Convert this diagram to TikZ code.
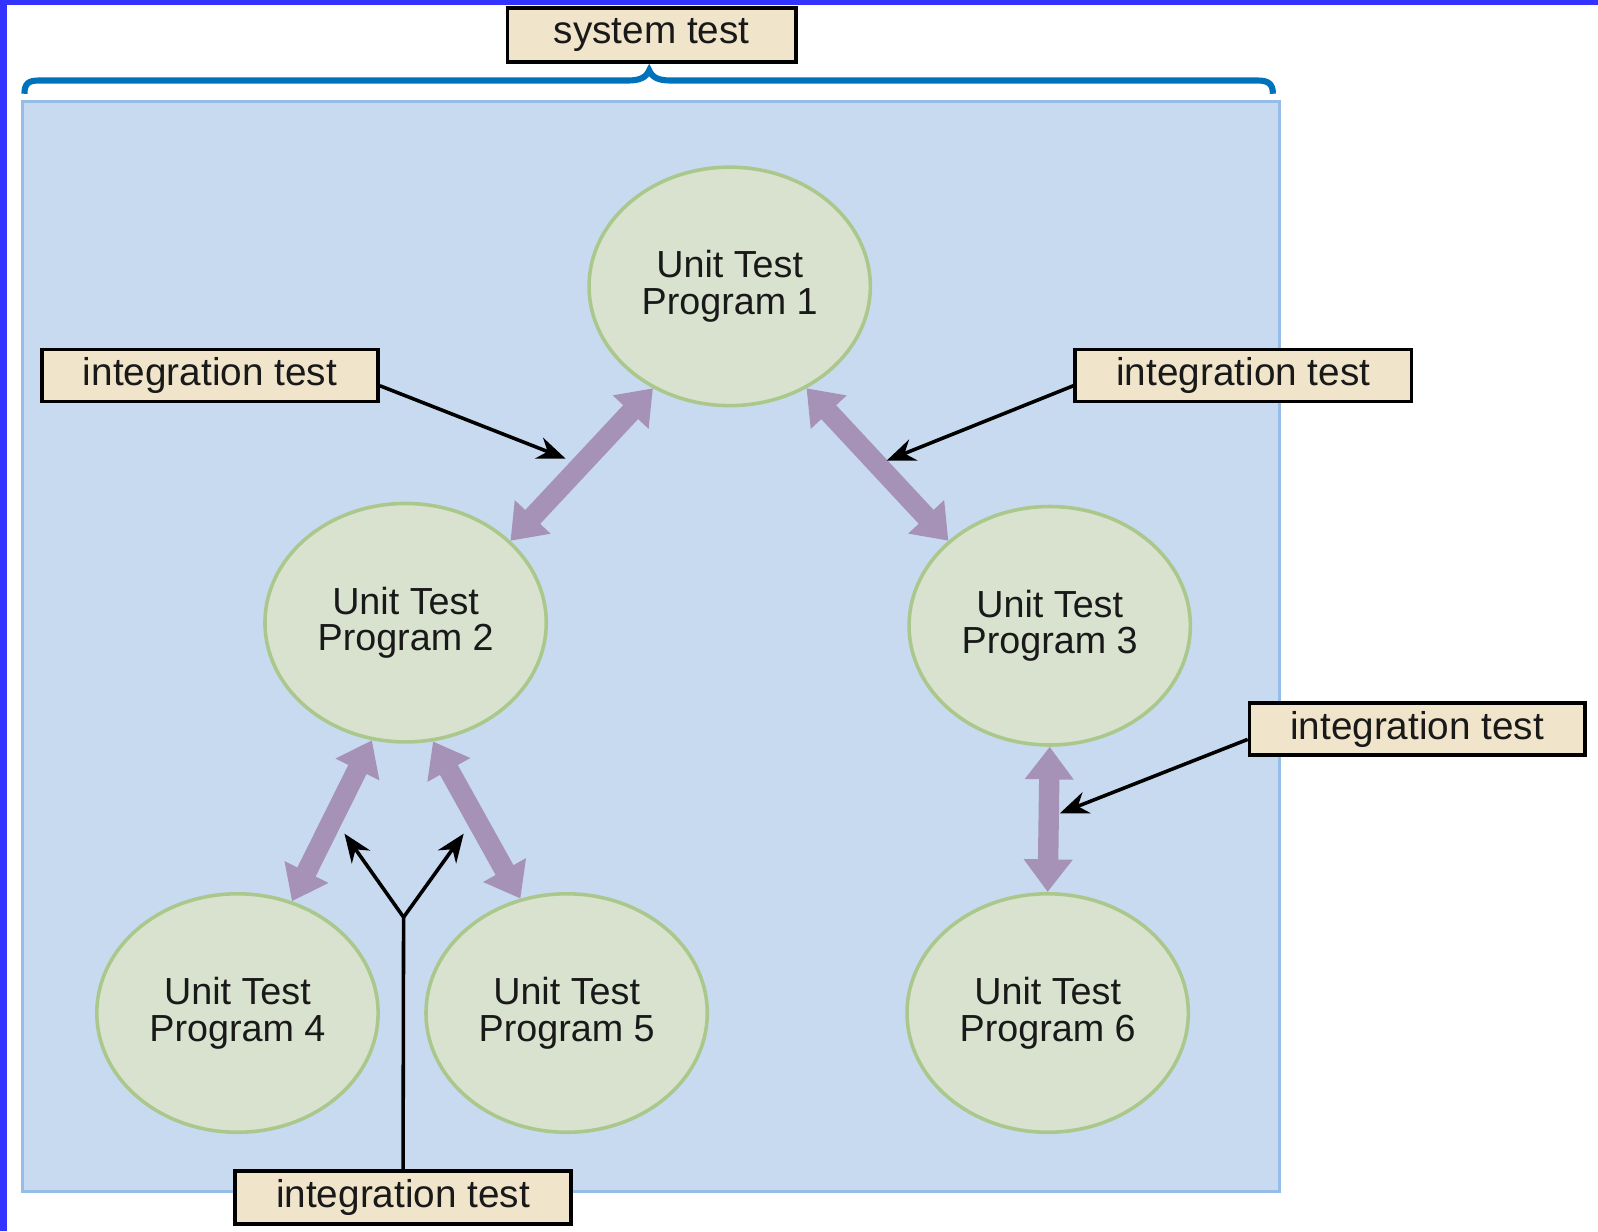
\documentclass[tikz,border=0pt]{standalone}
\usepackage{fontspec}
\setmainfont{Liberation Sans}
\usetikzlibrary{shapes.geometric,arrows.meta,calc}
\definecolor{framebl}{RGB}{51,51,255}
\definecolor{bracebl}{RGB}{0,114,188}
\definecolor{bgfill}{RGB}{200,218,240}
\definecolor{bgdraw}{RGB}{150,188,232}
\definecolor{ellfill}{RGB}{216,226,206}
\definecolor{ellgreen}{RGB}{170,200,140}
\definecolor{purp}{RGB}{166,146,182}
\definecolor{labfill}{RGB}{240,228,202}
\definecolor{txt}{RGB}{25,25,25}
\begin{document}
\begin{tikzpicture}[x=1pt,y=-1pt,
  unit/.style={ellipse, draw=ellgreen, fill=ellfill, line width=3.5pt,
    minimum width=276pt, minimum height=234pt, inner sep=0pt, align=center,
    text=txt, font=\fontsize{37}{36}\selectfont},
  lab/.style={rectangle, draw=black, fill=labfill, line width=3.5pt,
    minimum width=330pt, minimum height=51pt, inner sep=0pt, text=txt,
    font=\fontsize{38}{40}\selectfont},
  dbl/.style={draw=purp, line width=20pt,
    {Triangle[width=46pt,length=32pt]}-{Triangle[width=46pt,length=32pt]}},
  ptr/.style={draw=black, line width=3.5pt, -{Stealth[length=28pt,width=22pt]}}
]
% page
\fill[white] (0,0) rectangle (1568,1208);
\useasboundingbox (0,0) rectangle (1568,1208);
\fill[framebl] (0,0) rectangle (7,1208);
\fill[framebl] (0,0) rectangle (1568,5);
% brace
\draw[bracebl, line width=6pt] (24,92) .. controls (24,82) and (28,79) .. (38,79)
  -- (616,79) .. controls (628,79) and (634,76) .. (637,69)
  .. controls (640,76) and (646,79) .. (658,79)
  -- (1234,79) .. controls (1244,79) and (1249,82) .. (1249,92);
\node[lab, minimum width=283pt, minimum height=53pt] (sys) at (639.5,34.5) {system test};
% background area
\draw[fill=bgfill, draw=bgdraw, line width=3pt] (22,100) rectangle (1255,1169);
% units
\node[unit] (e1) at (716,281) {Unit Test\\Program 1};
\node[unit] (e2) at (398,611) {Unit Test\\Program 2};
\node[unit] (e3) at (1030,614) {Unit Test\\Program 3};
\node[unit] (e4) at (233,994) {Unit Test\\Program 4};
\node[unit] (e5) at (556,994) {Unit Test\\Program 5};
\node[unit] (e6) at (1028,994) {Unit Test\\Program 6};
% purple double arrows
\draw[dbl] (e1.-127) -- (e2.38);
\draw[dbl] (e1.-53.5) -- (e3.140);
\draw[dbl] (e2.-106) -- (e4.64);
\draw[dbl] (e2.-77) -- (e5.112);
\draw[dbl] (e3.south) -- (e6.north);
% labels
\node[lab] (l1) at (206,368.5) {integration test};
\node[lab] (l2) at (1220,368.5) {integration test};
\node[lab, minimum width=329pt] (l3) at (1390.5,715.5) {integration test};
\node[lab, minimum height=52pt] (l4) at (395.5,1175) {integration test};
% pointer targets
\coordinate (t1) at (555,450);
\coordinate (t2) at (870,452);
\coordinate (t3) at (1040,798);
\coordinate (j) at (396,900);
\coordinate (t4) at (338,818);
\coordinate (t5) at (455,818);
\draw[ptr] ($(l1.east)+(0,10)$) -- (t1);
\draw[ptr] ($(l2.west)+(0,10)$) -- (t2);
\draw[ptr] ($(l3.west)+(0,10)$) -- (t3);
\draw[line width=3.5pt] (l4.north) -- (j);
\draw[ptr] (j) -- (t4);
\draw[ptr] (j) -- (t5);
\end{tikzpicture}
\end{document}
